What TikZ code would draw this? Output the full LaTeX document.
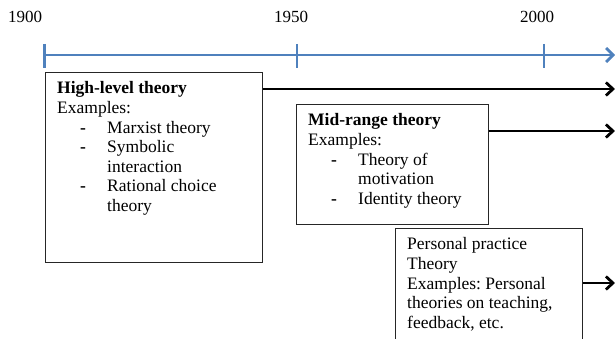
\documentclass[tikz,border=0pt]{standalone}
\usepackage{fontspec}
\setmainfont{Liberation Serif}
\usetikzlibrary{arrows.meta}
\definecolor{axisblue}{HTML}{4F81BD}
\tikzset{
  axisline/.style={axisblue, line width=2.8pt},
  theorybox/.style={draw=black!85, line width=0.9pt, anchor=north west, inner sep=0pt},
  theorytext/.style={anchor=north west, inner sep=0pt, align=left,
                     font=\fontsize{17.5}{19.6}\selectfont},
  spanarrow/.style={line width=2.8pt, -{Straight Barb[length=7pt,width=13pt]}},
}
\newcommand{\dashitem}{\hspace*{23pt}\makebox[27pt][l]{\textbf{-}}}
\newcommand{\dashcont}{\hspace*{50pt}}
\frenchspacing
\begin{document}
\begin{tikzpicture}[x=1pt,y=-1pt]%{{{
\clip (0,0) rectangle (615,339);
%
% Ligne du temps
\coordinate (axisend) at (615,55);
\coordinate (t1900) at (44.5,55);
\coordinate (t1950) at (297,55);
\coordinate (t2000) at (544,55);
\draw [axisline, -{Straight Barb[length=7pt,width=14pt]}] (t1900) -- (axisend);
\foreach \yr/\lx in {1900/8,1950/274,2000/520} {
  \draw [axisline] (t\yr) ++(0,-11) -- ++(0,24);
  \node (lab\yr) [anchor=base west, inner sep=0pt, font=\fontsize{17}{20}\selectfont]
        at (\lx,23) {\yr};
}
%
% High-level
\node (hl) [theorybox, minimum width=217pt, minimum height=190pt] at (45,72) {};
\node (hltext) [theorytext] at (57,81.5)
  {\textbf{High-level theory}\\
   Examples:\\
   \dashitem Marxist theory\\
   \dashitem Symbolic\\
   \dashcont interaction\\
   \dashitem Rational choice\\
   \dashcont theory};
%
% Mid-range
\node (mr) [theorybox, minimum width=192pt, minimum height=120pt] at (296,104) {};
\node (mrtext) [theorytext] at (308,113.5)
  {\textbf{Mid-range theory}\\
   Examples:\\
   \dashitem Theory of\\
   \dashcont motivation\\
   \dashitem Identity theory};
%
% Personal practice
\node (pp) [theorybox, minimum width=187pt, minimum height=130pt] at (395,228) {};
\node (pptext) [theorytext] at (407,237.5)
  {Personal practice\\
   Theory\\
   Examples: Personal\\
   theories on teaching,\\
   feedback, etc.};
%
% Fleches
\coordinate (hlend) at (615,89);
\coordinate (mrend) at (615,131);
\coordinate (ppend) at (615,283);
\draw [spanarrow] (hl.east |- hlend) -- (hlend);
\draw [spanarrow] (mr.east |- mrend) -- (mrend);
\draw [spanarrow] (pp.east |- ppend) -- (ppend);
%
\end{tikzpicture}
\end{document}
